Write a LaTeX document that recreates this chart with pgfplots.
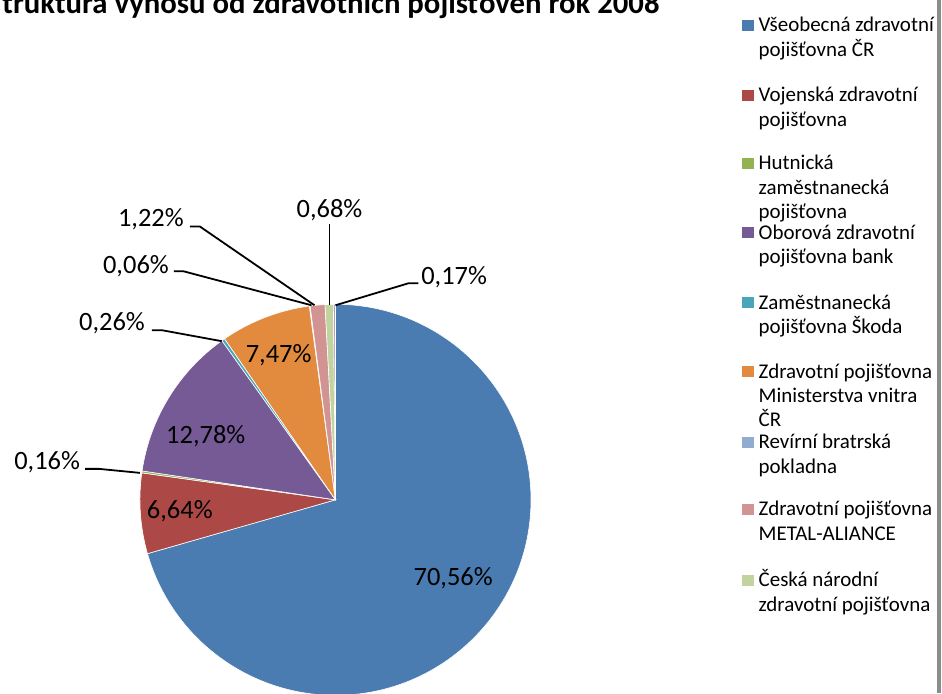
\documentclass[border=0pt]{standalone}
\usepackage{pgfplots}
\pgfplotsset{compat=1.18}
\usepackage{pgfplotstable}
\usepackage{fontspec}
\setmainfont{Carlito}

\definecolor{c0}{HTML}{4A7BB1}
\definecolor{c1}{HTML}{AC4946}
\definecolor{c2}{HTML}{93B352}
\definecolor{c3}{HTML}{765A96}
\definecolor{c4}{HTML}{49A4BC}
\definecolor{c5}{HTML}{E28B3E}
\definecolor{c6}{HTML}{92ABD0}
\definecolor{c7}{HTML}{D29493}
\definecolor{c8}{HTML}{C1D39F}
\definecolor{c9}{HTML}{AE9FC6}
\definecolor{bordergray}{HTML}{8C8C8C}

\pgfplotstableread[col sep=comma]{
name,value
VZP,70.56
VoZP,6.64
HZP,0.16
OZP,12.78
ZPS,0.26
ZPMV,7.47
RBP,0.06
METAL,1.22
CNZP,0.68
other,0.17
}\piedata

\newcommand\legfont{\fontsize{21}{24.5}\selectfont}
\newcommand\labfont{\fontsize{26.5}{30}\selectfont}

\begin{document}
\def\cum{0}
\foreach \i in {0,...,9}{%
  \pgfplotstablegetelem{\i}{value}\of\piedata
  \pgfmathsetmacro\sa{3.6*\cum-90}%
  \pgfmathsetmacro\newcum{\cum+\pgfplotsretval}%
  \pgfmathsetmacro\ea{3.6*\newcum-90}%
  \expandafter\xdef\csname sa\i\endcsname{\sa}%
  \expandafter\xdef\csname ea\i\endcsname{\ea}%
  \xdef\cum{\newcum}%
}%
\begin{tikzpicture}[x=1pt,y=1pt]
\path[use as bounding box] (0,0) rectangle (942,695);
\begin{scope}
\clip (0,0) rectangle (937,695);
\begin{axis}[
  at={(0,0)}, anchor=south west,
  width=942pt, height=695pt, scale only axis,
  xmin=0, xmax=942, ymin=0, ymax=695,
  y dir=reverse,
  hide axis, clip=false,
]
% pie slices (y axis is reversed, so angles are mirrored)
\pgfplotsinvokeforeach{0,...,9}{
  \fill[c#1, draw=white, line width=0.6pt] (axis cs:334,501) -- ++(\csname sa#1\endcsname:196)
     arc[start angle=\csname sa#1\endcsname, end angle=\csname ea#1\endcsname, radius=196] -- cycle;
}
% leader lines
\draw[black, line width=1.8pt] (axis cs:83,470) -- (axis cs:97,470) -- (axis cs:138,474);
\draw[black, line width=1.8pt] (axis cs:150,331) -- (axis cs:160,331) -- (axis cs:220,342);
\draw[black, line width=1.8pt] (axis cs:172,272) -- (axis cs:182,272) -- (axis cs:310,306);
\draw[black, line width=1.8pt] (axis cs:188,227) -- (axis cs:198,227) -- (axis cs:313,306);
\draw[black, line width=1.8pt] (axis cs:328,225) -- (axis cs:328,306);
\draw[black, line width=1.8pt] (axis cs:417,284) -- (axis cs:407,284) -- (axis cs:334,306);
% data labels
\node[font=\labfont, inner sep=0] at (axis cs:452,580) {70,56\%};
\node[font=\labfont, inner sep=0] at (axis cs:178,512) {6,64\%};
\node[font=\labfont, inner sep=0] at (axis cs:204,437) {12,78\%};
\node[font=\labfont, inner sep=0] at (axis cs:277,356) {7,47\%};
\node[font=\labfont, inner sep=0] at (axis cs:45,463) {0,16\%};
\node[font=\labfont, inner sep=0] at (axis cs:110,324) {0,26\%};
\node[font=\labfont, inner sep=0] at (axis cs:134,267) {0,06\%};
\node[font=\labfont, inner sep=0] at (axis cs:149,220) {1,22\%};
\node[font=\labfont, inner sep=0] at (axis cs:328,211) {0,68\%};
\node[font=\labfont, inner sep=0] at (axis cs:453,278) {0,17\%};
% title
\node[font=\fontsize{30.8}{35}\selectfont\bfseries, inner sep=0, anchor=base east] at (axis cs:659,14) {Struktura výnosů od zdravotních pojišťoven rok 2008};
% legend
\foreach \k/\b/\la/\lb/\lc in {
  0/32/Všeobecná zdravotní/pojišťovna ČR/,
  1/102/Vojenská zdravotní/pojišťovna/,
  2/170/Hutnická/zaměstnanecká/pojišťovna,
  3/240/Oborová zdravotní/pojišťovna bank/,
  4/310/Zaměstnanecká/pojišťovna Škoda/,
  5/379/Zdravotní pojišťovna/Ministerstva vnitra/ČR,
  6/450/Revírní bratrská/pokladna/,
  7/517/Zdravotní pojišťovna/METAL-ALIANCE/,
  8/588/Česká národní/zdravotní pojišťovna/}{
  \edef\temp{\noexpand\fill[c\k] (axis cs:742,\b-12) rectangle (axis cs:754,\b-1);}\temp
  \edef\temp{\noexpand\node[font=\noexpand\legfont, inner sep=0, anchor=base west] at (axis cs:758,\b) {\unexpanded\expandafter{\la}};}\temp
  \edef\temp{\noexpand\node[font=\noexpand\legfont, inner sep=0, anchor=base west] at (axis cs:758,\b+24.5) {\unexpanded\expandafter{\lb}};}\temp
  \edef\temp{\noexpand\node[font=\noexpand\legfont, inner sep=0, anchor=base west] at (axis cs:758,\b+49) {\unexpanded\expandafter{\lc}};}\temp
}
\end{axis}
\end{scope}
\fill[bordergray] (937,0) rectangle (940.5,695);
\end{tikzpicture}
\end{document}
